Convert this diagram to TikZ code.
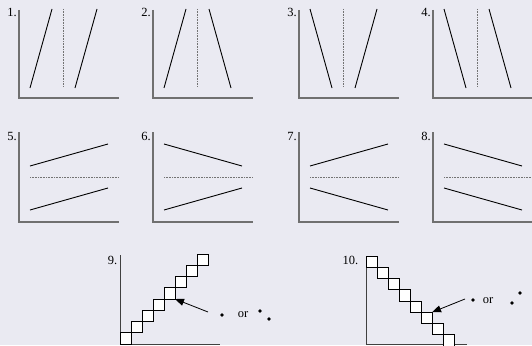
\documentclass[tikz,border=0pt]{standalone}
\usepackage{fontspec}
\setmainfont{Liberation Serif}
\usetikzlibrary{arrows.meta}
\definecolor{plotbg}{RGB}{234,234,242}
\definecolor{axisgray}{RGB}{112,112,112}
\tikzset{
  axisline/.style={draw=axisgray, line width=1.3pt},
  axisthin/.style={draw=black!75, line width=0.8pt},
  trend/.style={draw=black, line width=0.9pt},
  midline/.style={draw=black!55, line width=0.6pt, dash pattern=on 0.8pt off 0.8pt},
  cell/.style={draw=black, fill=white, line width=0.8pt},
  plabel/.style={font=\fontsize{12.5}{14}\selectfont, inner sep=0pt, anchor=base east},
  ortext/.style={font=\fontsize{12.5}{14}\selectfont, inner sep=0pt, anchor=base},
  pointer/.style={-{Triangle[length=9pt,width=7pt]}, line width=0.8pt},
  dotmark/.style={fill=black, circle, inner sep=0pt, minimum size=3.6pt},
}

\begin{document}
\begin{tikzpicture}[x=1pt, y=-1pt]
\fill[plotbg] (0,0) rectangle (532,345);
\useasboundingbox (0,0) rectangle (532,345);

% Row 1: steep lines about a vertical dotted line (1 = rising, -1 = falling)
\foreach \n/\xo/\ldir/\rdir in {1/19/1/1, 2/153/1/-1, 3/299/-1/1, 4/433/-1/-1} {
  \begin{scope}[xshift=\xo pt]
    \draw[axisline] (0,10) -- (0,98) -- (100,98);
    \draw[trend] (11,{48.5+39.5*\ldir}) -- (33,{48.5-39.5*\ldir});
    \draw[midline] (44.5,9) -- (44.5,87);
    \draw[trend] (56,{48.5+39.5*\rdir}) -- (78,{48.5-39.5*\rdir});
    \node[plabel] (lab\n) at (-2,17) {\n.};
  \end{scope}
}

% Row 2: flat lines about a horizontal dotted line
\foreach \n/\xo/\udir/\bdir in {5/19/1/1, 6/153/-1/1, 7/299/1/-1, 8/433/-1/-1} {
  \begin{scope}[xshift=\xo pt]
    \draw[axisline] (0,132) -- (0,222) -- (100,222);
    \draw[trend] (11,{155+11*\udir}) -- (89,{155-11*\udir});
    \draw[midline] (11,177) -- (100,177);
    \draw[trend] (11,{199+11*\bdir}) -- (89,{199-11*\bdir});
    \node[plabel] (lab\n) at (-2,140) {\n.};
  \end{scope}
}

% Panel 9: rising staircase
\draw[axisthin] (120,255) -- (120,344) -- (220,344);
\foreach \k in {0,...,7}
  \draw[cell] ({120+11*\k},{344-11.25*\k}) rectangle ++(11,-11.25);
\node[plabel] (lab9) at (117.5,264) {9.};
\coordinate (tip9) at (175,299);
\coordinate (tail9) at (208,312);
\draw[pointer] (tail9) -- (tip9);
\node[dotmark] (dot9) at (222,315) {};
\node[ortext] (or9) at (243,317) {or};
\node[dotmark] (dot9a) at (260,311) {};
\node[dotmark] (dot9b) at (269,319) {};

% Panel 10: falling staircase
\draw[axisthin] (366,256) -- (366,344) -- (467,344);
\foreach \k in {0,...,7}
  \draw[cell] ({366+11*\k},{256+11.25*\k}) rectangle ++(11,11.25);
\node[plabel] (lab10) at (358.5,264) {10.};
\coordinate (tip10) at (432,312.25);
\coordinate (tail10) at (465,299);
\draw[pointer] (tail10) -- (tip10);
\node[dotmark] (dot10) at (473,300) {};
\node[ortext] (or10) at (488,303) {or};
\node[dotmark] (dot10a) at (512,303) {};
\node[dotmark] (dot10b) at (520,293) {};
\end{tikzpicture}
\end{document}
